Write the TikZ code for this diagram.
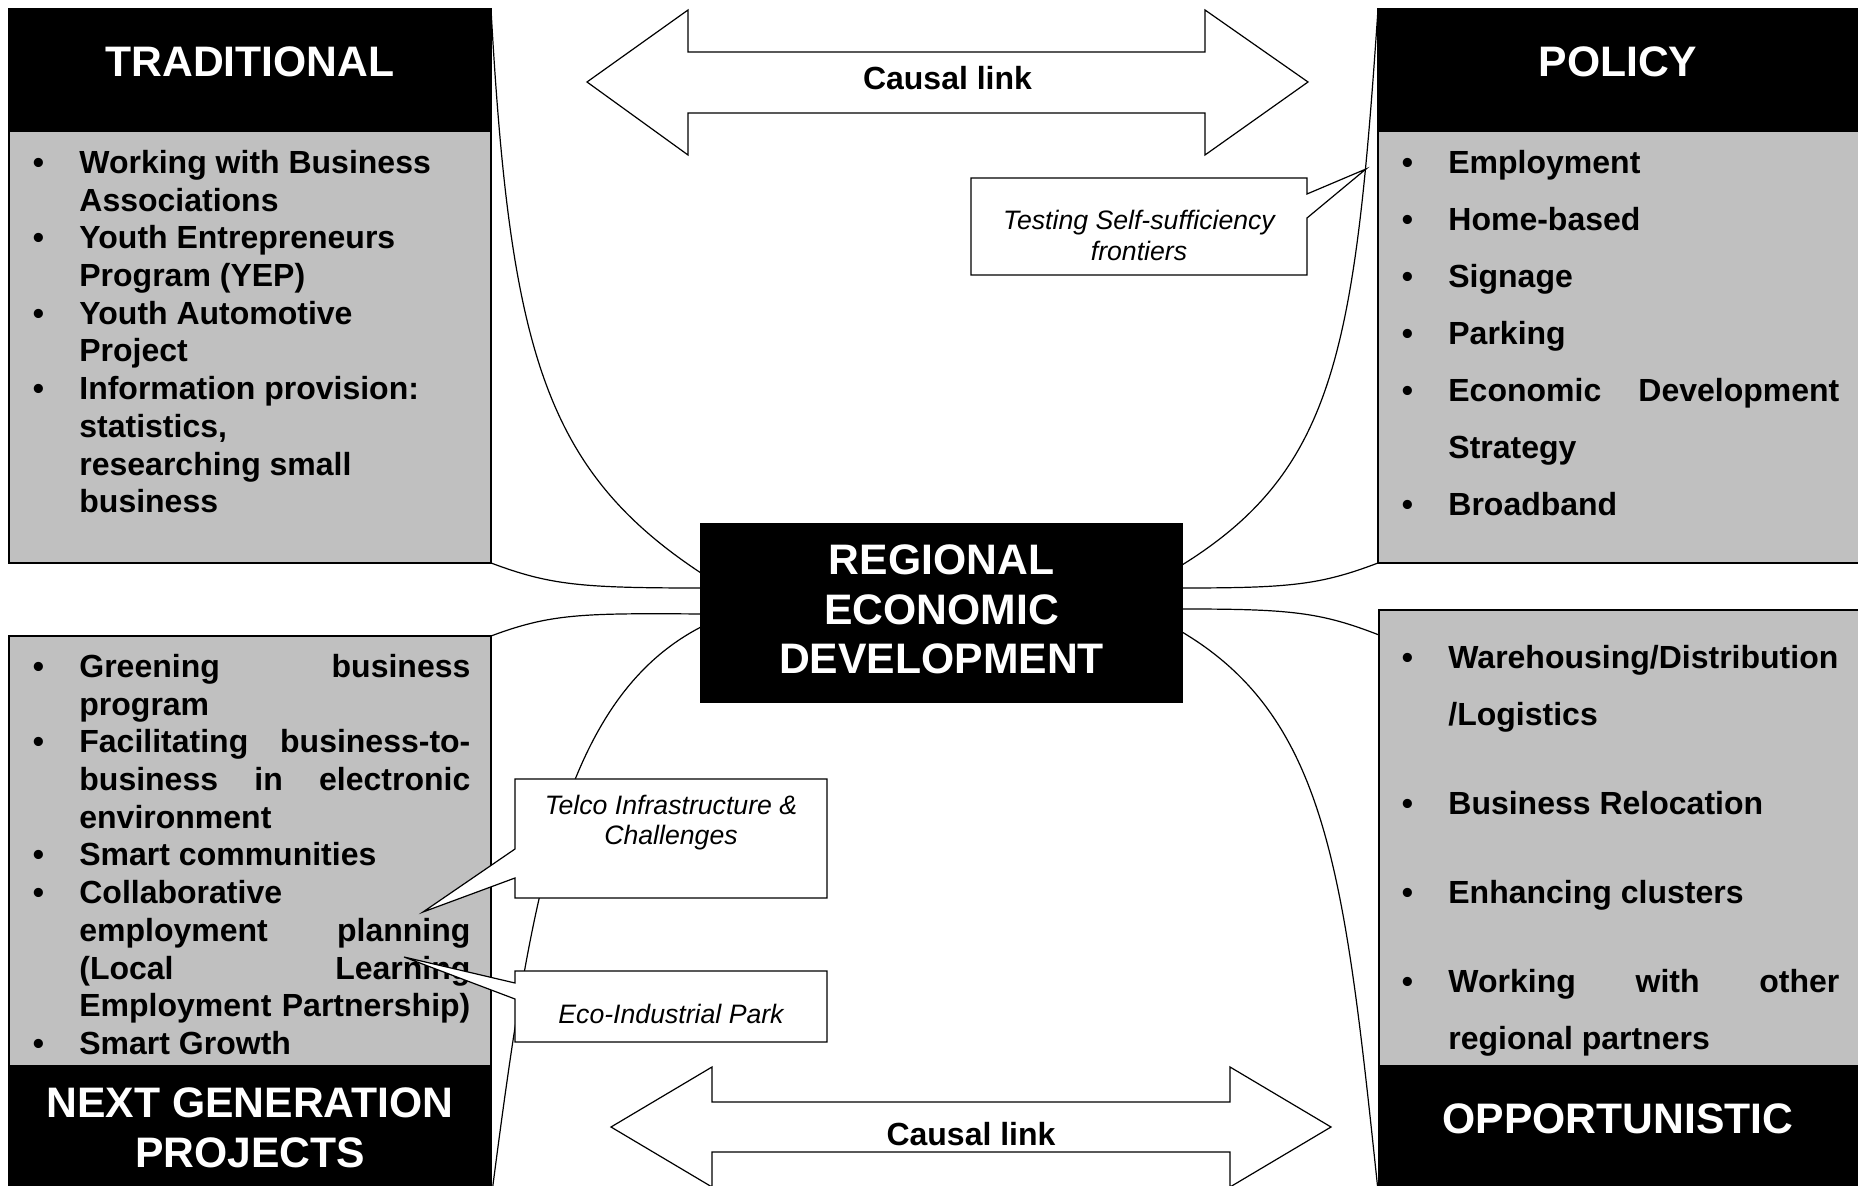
\documentclass[tikz,border=0pt]{standalone}
\usepackage{fontspec}
\setmainfont{Liberation Sans}
\usetikzlibrary{calc}
\definecolor{boxgray}{RGB}{192,192,192}
\newcommand\bulit{\leavevmode\llap{\textbullet\hspace{17.7pt}}}
\newcommand\jline[1]{\makebox[\linewidth][s]{#1}}
\newcommand\lbox[2]{\parbox[t]{#1}{\parindent=0pt\parskip=0pt\raggedright #2}}
\begin{document}
\begin{tikzpicture}[x=0.5pt,y=-0.5pt,
  gbox/.style={draw=black, line width=0.8pt, fill=boxgray, inner sep=0pt, outer sep=0pt},
  hbox/.style={draw=black, line width=0.8pt, fill=black, inner sep=0pt, outer sep=0pt},
  title/.style={text=white, font=\bfseries\fontsize{21.33pt}{24.75pt}\selectfont, inner sep=0pt, anchor=base},
  listA/.style={inner sep=0pt, anchor=base west, font=\bfseries\fontsize{16pt}{18.85pt}\selectfont},
  listB/.style={inner sep=0pt, anchor=base west, font=\bfseries\fontsize{16pt}{28.5pt}\selectfont},
  ctext/.style={inner sep=0pt, anchor=base, font=\itshape\fontsize{13.33pt}{15.4pt}\selectfont},
  linktext/.style={inner sep=0pt, anchor=base, font=\bfseries\fontsize{16pt}{18.85pt}\selectfont},
  link/.style={draw=black, line width=0.6pt},
  wshape/.style={draw=black, line width=0.6pt, fill=white, line join=miter}
]
\useasboundingbox (0,0) rectangle (1858,1186);
\clip (0,0) rectangle (1858,1186);

% boxes (as nodes, for naming)
\node[gbox, minimum width=241pt, minimum height=277pt] (trad) at (250,286) {};
\node[gbox, minimum width=246pt, minimum height=277pt] (pol) at (1624,286) {};
\node[gbox, minimum width=241pt, minimum height=282pt] (ng) at (250,918) {};
\node[gbox, minimum width=245.5pt, minimum height=295pt] (opp) at (1624.5,905) {};
\node[hbox, minimum width=240.5pt, minimum height=89pt] (reg) at (941.5,613) {};

% connecting curves
\draw[link] (trad.north east) .. controls (510,350) and (545,470) .. ($(reg.west)+(0,-40)$);
\draw[link] (trad.south east) .. controls (550,585) and (580,588) .. ($(reg.west)+(0,-25)$);
\draw[link] (ng.north east) .. controls (550,614) and (580,613) .. ($(reg.west)+(0,1)$);
\draw[link] (ng.south east) .. controls (530,900) and (560,700) .. ($(reg.west)+(0,14)$);
\draw[link] (pol.north west) .. controls (1355,350) and (1335,470) .. ($(reg.east)+(0,-48)$);
\draw[link] (pol.south west) .. controls (1320,585) and (1290,588) .. ($(reg.east)+(0,-25)$);
\draw[link] ($(opp.north west)+(0,25)$) .. controls (1320,612) and (1290,609) .. ($(reg.east)+(0,-4)$);
\draw[link] (opp.south west) .. controls (1345,880) and (1330,720) .. ($(reg.east)+(0,19)$);

% redraw boxes on top of curve ends
\node[gbox, minimum width=241pt, minimum height=277pt] (trad2) at (trad) {};
\node[hbox, minimum width=241pt, minimum height=61pt, anchor=north] (tradhead) at (trad.north) {};
\node[gbox, minimum width=246pt, minimum height=277pt] (pol2) at (pol) {};
\node[hbox, minimum width=246pt, minimum height=61pt, anchor=north] (polhead) at (pol.north) {};
\node[gbox, minimum width=241pt, minimum height=282pt] (ng2) at (ng) {};
\node[hbox, minimum width=241pt, minimum height=67pt, anchor=south] (nghead) at (ng.south) {};
\node[gbox, minimum width=245.5pt, minimum height=295pt] (opp2) at (opp) {};
\node[hbox, minimum width=245.5pt, minimum height=67pt, anchor=south] (opphead) at (opp.south) {};
\node[hbox, minimum width=240.5pt, minimum height=89pt] (reg2) at (reg) {};

% causal link arrows
\draw[wshape] (587,82) -- (688,10) -- (688,52) -- (1205,52) -- (1205,10) -- (1308,82)
  -- (1205,155) -- (1205,113) -- (688,113) -- (688,155) -- cycle;
\draw[wshape] (611,1127) -- (712,1067) -- (712,1102) -- (1230,1102) -- (1230,1067) -- (1331,1127)
  -- (1230,1187) -- (1230,1152) -- (712,1152) -- (712,1187) -- cycle;
\node[linktext] (cl1) at (947.5,90) {Causal link};
\node[linktext] (cl2) at (971,1145) {Causal link};

% titles
\node[title] (tradt) at (250,77) {TRADITIONAL};
\node[title] (polt) at (1618,77) {POLICY};
\node[title] (ngt) at (250,1117.5) {\parbox[t]{240pt}{\centering NEXT GENERATION\\PROJECTS}};
\node[title] (oppt) at (1618,1133) {OPPORTUNISTIC};
\node[title] (regt) at (941.5,575) {\parbox[t]{240pt}{\centering REGIONAL\\ECONOMIC\\DEVELOPMENT}};

% lists
\node[listA] (tradlist) at (79,173.5) {\lbox{195.5pt}{%
\bulit Working with Business\par
Associations\par
\bulit Youth Entrepreneurs\par
Program (YEP)\par
\bulit Youth Automotive\par
Project\par
\bulit Information provision:\par
statistics,\par
researching small\par
business}};

\node[listA] (nglist) at (79,677.5) {\lbox{195.5pt}{%
\bulit\jline{Greening business}\par
program\par
\bulit\jline{Facilitating business-to-}\par
\jline{business in electronic}\par
environment\par
\bulit Smart communities\par
\bulit Collaborative\par
\jline{employment planning}\par
\jline{(Local Learning}\par
\jline{Employment Partnership)}\par
\bulit Smart Growth}};

\node[listB] (pollist) at (1448,173.5) {\lbox{195.5pt}{%
\bulit Employment\par
\bulit Home-based\par
\bulit Signage\par
\bulit Parking\par
\bulit\jline{Economic Development}\par
Strategy\par
\bulit Broadband}};

\node[listB] (opplist) at (1448,669) {\lbox{195.5pt}{%
\bulit Warehousing/Distribution\par
/Logistics\par\vspace{16pt}
\bulit Business Relocation\par\vspace{16pt}
\bulit Enhancing clusters\par\vspace{16pt}
\bulit\jline{Working with other}\par
regional partners}};

% callouts
\draw[wshape] (971,178) -- (1307,178) -- (1307,194) -- (1366,169) -- (1307,218) -- (1307,275) -- (971,275) -- cycle;
\draw[wshape] (515,779) -- (827,779) -- (827,898) -- (515,898) -- (515,878) -- (423,912) -- (515,849) -- cycle;
\draw[wshape] (515,971) -- (827,971) -- (827,1042) -- (515,1042) -- (515,999) -- (404,957) -- (515,983) -- cycle;
\node[ctext] (testt) at (1139,230) {\parbox[t]{165pt}{\centering Testing Self-sufficiency\\frontiers}};
\node[ctext] (telcot) at (671,814) {\parbox[t]{150pt}{\centering Telco Infrastructure \&\\Challenges}};
\node[ctext] (ecot) at (671,1023) {Eco-Industrial Park};
\end{tikzpicture}
\end{document}
